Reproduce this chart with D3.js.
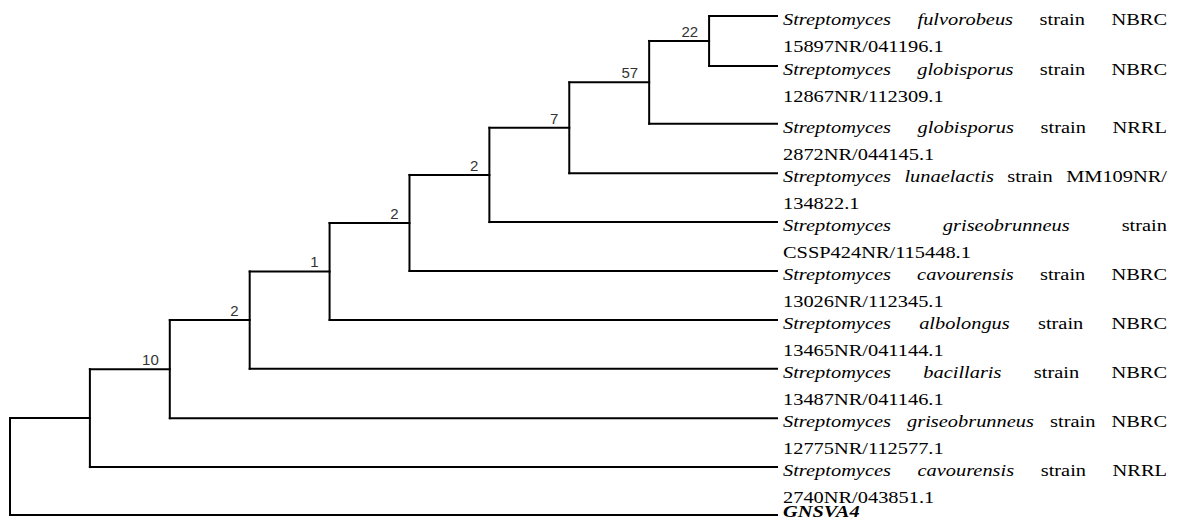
<!DOCTYPE html>
<html lang="en">
<head>
  <meta charset="UTF-8" />
  <title>Phylogenetic tree of GNSVA4</title>
  <script src="https://d3js.org/d3.v7.min.js"></script>
  <style>
    body { margin: 0; background: #fff; }
    svg { display: block; }
    .branch { stroke: #000; stroke-width: 2; fill: none; stroke-linecap: square; }
    .support { font-family: 'Liberation Sans', Arial, sans-serif; font-size: 15px; fill: #333; }
    .taxon { font-family: 'Liberation Serif', 'Times New Roman', serif; font-size: 17px; fill: #000; }
  </style>
</head>
<body>
<div id="chart"></div>
<script>
  // internal nodes (depth = steps from the root, as drawn)
  const nodeIds = ["N0", "N1", "N2", "N3", "N4", "N5", "N6", "N7", "N8", "N9"];
  const nodeParents = [null, "N0", "N1", "N2", "N3", "N4", "N5", "N6", "N7", "N8"];
  const nodeDepths = [0, 1, 2, 3, 4, 5, 6, 7, 8, 8.75];
  const nodeSupport = ["", "", "10", "2", "1", "2", "2", "7", "57", "22"];

  // leaves, top to bottom
  const leafParents = ["N9", "N9", "N8", "N7", "N6", "N5", "N4", "N3", "N2", "N1", "N0"];
  const leafRows = [0, 1, 2.16, 3.15, 4.13, 5.11, 6.09, 7.07, 8.06, 9.04, 10];
  const leafItalic = [
    "Streptomyces fulvorobeus", "Streptomyces globisporus", "Streptomyces globisporus",
    "Streptomyces lunaelactis", "Streptomyces griseobrunneus", "Streptomyces cavourensis",
    "Streptomyces albolongus", "Streptomyces bacillaris", "Streptomyces griseobrunneus",
    "Streptomyces cavourensis", "GNSVA4"
  ];
  const leafStrain = [
    "strain NBRC", "strain NBRC", "strain NRRL", "strain MM109NR/", "strain",
    "strain NBRC", "strain NBRC", "strain NBRC", "strain NBRC", "strain NRRL", ""
  ];
  const leafAccession = [
    "15897NR/041196.1", "12867NR/112309.1", "2872NR/044145.1", "134822.1",
    "CSSP424NR/115448.1", "13026NR/112345.1", "13465NR/041144.1", "13487NR/041146.1",
    "12775NR/112577.1", "2740NR/043851.1", ""
  ];
  const queryTaxon = "GNSVA4";
  const tipDepth = 9.6;

  const width = 1179, height = 521;
  const textLeft = 783, textRight = 1167, sx = 1.2;

  const rows = nodeIds.map((id, i) => ({ id, parent: nodeParents[i], depth: nodeDepths[i], support: nodeSupport[i] }))
    .concat(leafParents.map((p, i) => ({ id: "L" + i, parent: p, depth: tipDepth, leaf: i })));

  const root = d3.stratify().id(d => d.id).parentId(d => d.parent)(rows);

  const x = d3.scaleLinear().domain([0, tipDepth]).range([10, 777]);
  const y = d3.scaleLinear().domain([0, 10]).range([16, 515]);

  root.eachAfter(d => {
    if (!d.children) d.y = y(leafRows[d.data.leaf]);
    else {
      const ext = d3.extent(d.children, c => c.y);
      d.y = (ext[0] + ext[1]) / 2;
      d.y0 = ext[0]; d.y1 = ext[1];
    }
    d.x = x(d.data.depth);
  });

  const svg = d3.select("#chart").append("svg")
    .attr("width", width)
    .attr("height", height);

  // horizontal branches
  svg.selectAll("path.h")
    .data(root.descendants().filter(d => d.parent))
    .enter().append("path")
    .attr("class", "branch")
    .attr("d", d => `M${d.parent.x},${d.y}H${d.x}`);

  // vertical connectors
  svg.selectAll("path.v")
    .data(root.descendants().filter(d => d.children))
    .enter().append("path")
    .attr("class", "branch")
    .attr("d", d => `M${d.x},${d.y0}V${d.y1}`);

  // bootstrap values
  svg.selectAll("text.support")
    .data(root.descendants().filter(d => d.data.support))
    .enter().append("text")
    .attr("class", "support")
    .attr("text-anchor", "end")
    .attr("x", d => d.x - 11)
    .attr("y", d => d.y - 4)
    .text(d => d.data.support);

  // taxon labels (first line justified like the original)
  const avail = (textRight - textLeft) / sx;
  root.leaves().forEach(d => {
    const i = d.data.leaf;
    const g = svg.append("g")
      .attr("class", "taxon")
      .attr("transform", `translate(${textLeft},${Math.min(d.y + 9, height - 4)}) scale(${sx},1)`);

    const words = leafItalic[i].split(" ").map(w => ({ w, it: true }))
      .concat(leafStrain[i] ? leafStrain[i].split(" ").map(w => ({ w, it: false })) : []);

    const nodes = words.map(o => g.append("text")
      .attr("font-style", o.it ? "italic" : "normal")
      .attr("font-weight", leafItalic[i] === queryTaxon ? "bold" : "normal")
      .text(o.w));
    const widths = nodes.map(t => t.node().getComputedTextLength());
    const total = d3.sum(widths);
    const gap = (leafAccession[i] && words.length > 1) ? (avail - total) / (words.length - 1) : 4;
    let cx = 0;
    nodes.forEach((t, k) => { t.attr("x", cx); cx += widths[k] + gap; });

    if (leafAccession[i]) {
      g.append("text").attr("x", 0).attr("y", 27).text(leafAccession[i]);
    }
  });
</script>
</body>
</html>
